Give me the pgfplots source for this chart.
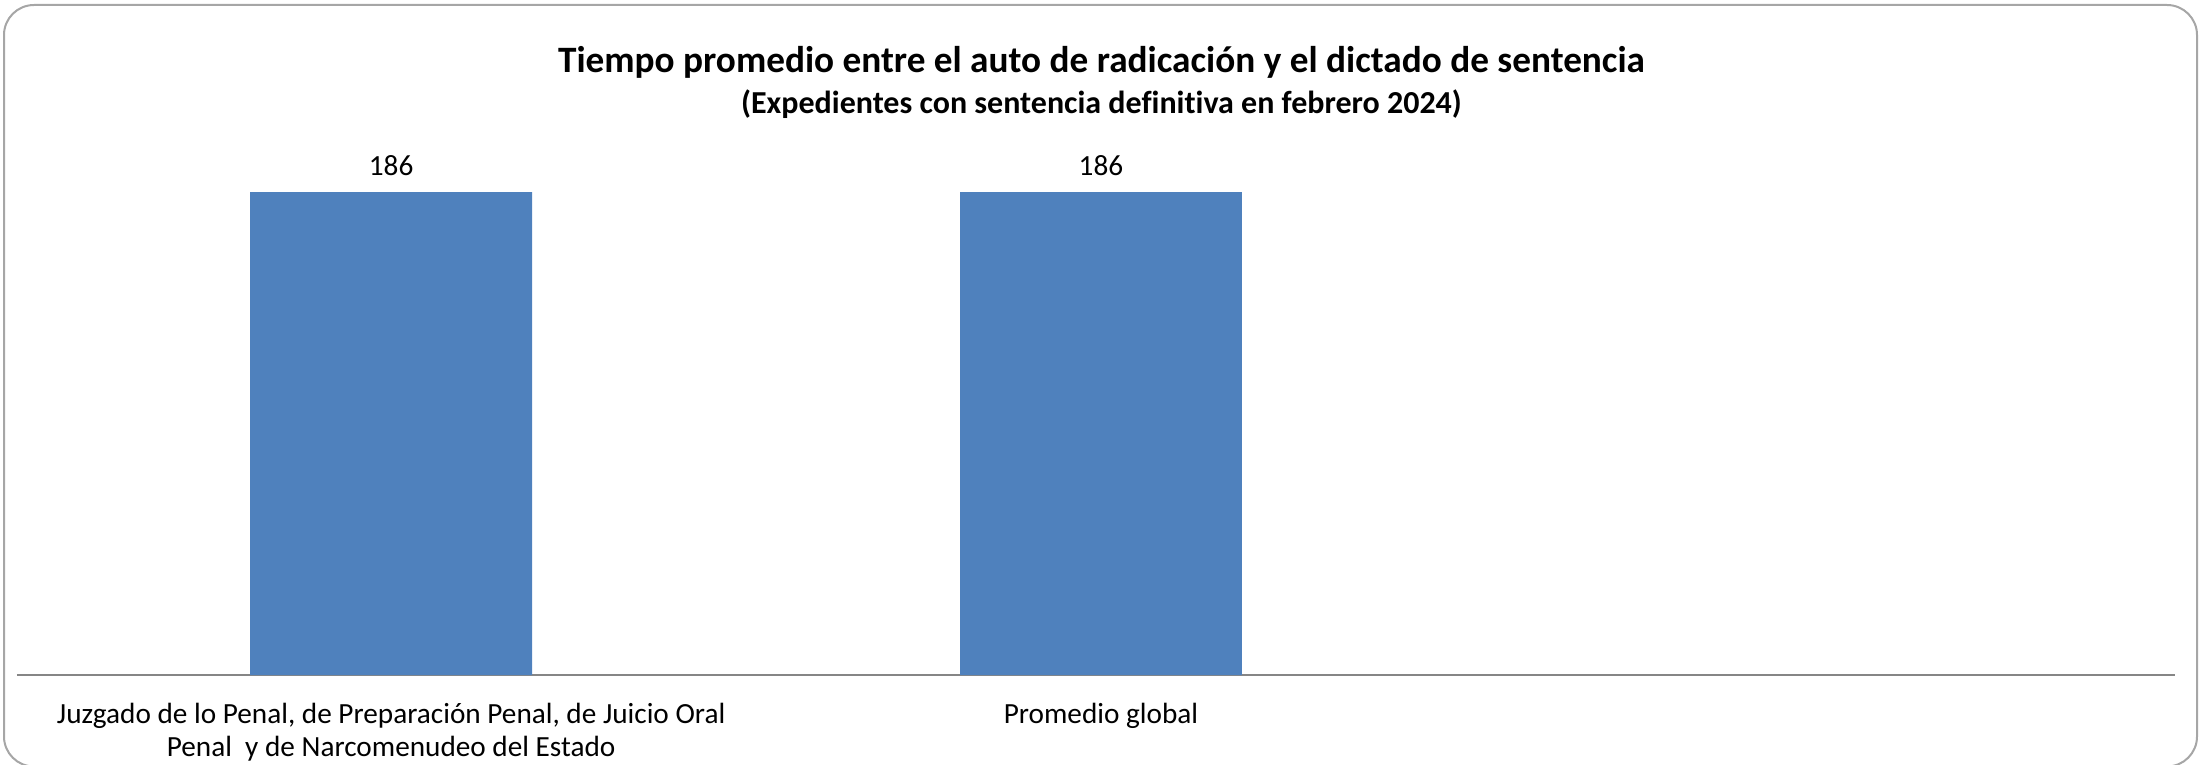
\documentclass[border=0pt]{standalone}
\usepackage{pgfplots}
\pgfplotsset{compat=1.18}
\usepackage{fontspec}
\setmainfont{Carlito}[Ligatures=NoCommon]
\definecolor{barblue}{HTML}{4F81BD}
\definecolor{axisgray}{HTML}{868686}
\definecolor{framegray}{HTML}{A6A6A6}

\begin{document}
\begin{tikzpicture}
\useasboundingbox (0,0) rectangle (881.2pt,305.6pt);
% frame round the chart
\draw[framegray, line width=0.8pt, rounded corners=12pt] (1.6pt,-1pt) rectangle (878.8pt,303.6pt);
% titles
\node[font=\fontsize{14.9}{16}\selectfont\bfseries, anchor=base, inner sep=0pt] at (440.6pt,276.4pt)
  {Tiempo promedio entre el auto de radicación y el dictado de sentencia};
\node[font=\fontsize{12.8}{14}\selectfont\bfseries, anchor=base, inner sep=0pt] at (440.6pt,260pt)
  {(Expedientes con sentencia definitiva en febrero 2024)};
\begin{axis}[
  at={(6.8pt,35.6pt)}, anchor=south west,
  scale only axis,
  width=863.2pt, height=193.2pt,
  ymin=0, ymax=186,
  xmin=-0.527, xmax=2.513,
  axis x line*=bottom,
  axis y line=none,
  x axis line style={axisgray, line width=0.8pt},
  ybar, bar width=0.397,
  xtick={0,1},
  xticklabels={{Juzgado de lo Penal, de Preparación Penal, de Juicio Oral\\Penal\ \ y de Narcomenudeo del Estado},{Promedio global}},
  major tick length=0pt,
  xtick style={draw=none},
  xticklabel style={font=\fontsize{11.7}{13.2}\selectfont, align=center, anchor=north, inner sep=0pt, yshift=-11pt},
  nodes near coords,
  nodes near coords style={font=\fontsize{11.7}{13}\selectfont, anchor=south, inner sep=0pt, yshift=6.4pt},
  /pgf/number format/assume math mode=true,
  clip=false,
]
\addplot[fill=barblue, draw=none] coordinates {(0,186) (1,186)};
\end{axis}
\end{tikzpicture}
\end{document}
